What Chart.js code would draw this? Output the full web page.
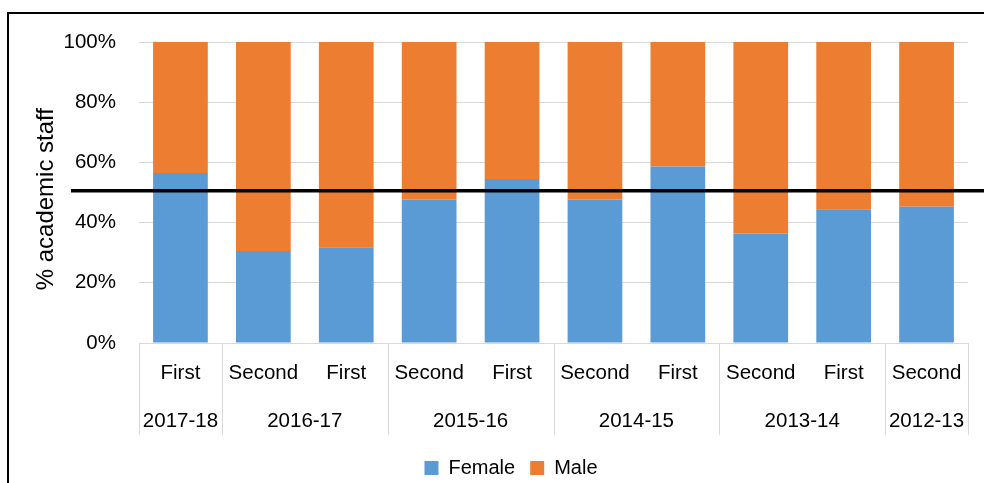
<!DOCTYPE html>
<html>
<head>
<meta charset="utf-8">
<script src="https://cdn.jsdelivr.net/npm/chart.js@4"></script>
<style>
  html, body { margin: 0; padding: 0; background: #fff; }
  #wrap { width: 984px; height: 483px; position: relative; }
</style>
</head>
<body>
<div id="wrap"><canvas id="c" width="984" height="483"></canvas></div>
<script>
// ---- data ----
const semesters = ['First', 'Second', 'First', 'Second', 'First', 'Second', 'First', 'Second', 'First', 'Second'];
const yearOfBar = ['2017-18', '2016-17', '2016-17', '2015-16', '2015-16', '2014-15', '2014-15', '2013-14', '2013-14', '2012-13'];
const female = [56.5, 30.6, 31.8, 47.7, 54.5, 47.7, 58.6, 36.4, 44.4, 45.3];
const male = [43.5, 69.4, 68.2, 52.3, 45.5, 52.3, 41.4, 63.6, 55.6, 54.7];
const yTicks = [0, 20, 40, 60, 80, 100];
const parityLine = 50.6;

const FONT = "'Liberation Sans', Arial, sans-serif";
const GRID = '#d9d9d9';

const decor = {
  id: 'decor',
  afterLayout(chart) {
    const lg = chart.legend;
    if (lg) { lg.left += 27; lg.right += 27; }
  },
  beforeDraw(chart) {
    const ctx = chart.ctx;
    ctx.save();
    ctx.strokeStyle = '#000';
    ctx.lineWidth = 2;
    ctx.beginPath();
    ctx.moveTo(8, 490);
    ctx.lineTo(8, 13);
    ctx.lineTo(990, 13);
    ctx.stroke();
    ctx.restore();
  },
  afterDatasetsDraw(chart) {
    const ctx = chart.ctx;
    const y = chart.scales.y.getPixelForValue(parityLine);
    ctx.save();
    ctx.strokeStyle = '#000';
    ctx.lineWidth = 3.5;
    ctx.beginPath();
    ctx.moveTo(71, y);
    ctx.lineTo(984, y);
    ctx.stroke();
    ctx.restore();
  },
  afterDraw(chart) {
    const ctx = chart.ctx;
    const xs = chart.scales.x;
    const n = semesters.length;
    const half = (xs.getPixelForValue(1) - xs.getPixelForValue(0)) / 2;
    const top = xs.top;
    const bottom = 435;
    // groups
    const groups = [];
    yearOfBar.forEach((yr, i) => {
      const g = groups[groups.length - 1];
      if (g && g.year === yr) g.end = i; else groups.push({ year: yr, start: i, end: i });
    });
    ctx.save();
    ctx.strokeStyle = GRID;
    ctx.lineWidth = 1;
    ctx.fillStyle = '#000';
    ctx.font = '20.5px ' + FONT;
    ctx.textAlign = 'center';
    ctx.textBaseline = 'middle';
    groups.forEach((g, k) => {
      const x0 = Math.round(xs.getPixelForValue(g.start) - half) + 0.5;
      ctx.beginPath();
      ctx.moveTo(x0, top);
      ctx.lineTo(x0, bottom);
      ctx.stroke();
      const cx = (xs.getPixelForValue(g.start) + xs.getPixelForValue(g.end)) / 2;
      ctx.fillText(g.year, cx, 421.5);
    });
    const xr = Math.round(xs.getPixelForValue(n - 1) + half) + 0.5;
    ctx.beginPath();
    ctx.moveTo(xr, top);
    ctx.lineTo(xr, bottom);
    ctx.stroke();
    ctx.restore();
  }
};

new Chart(document.getElementById('c'), {
  type: 'bar',
  data: {
    labels: semesters,
    datasets: [
      { label: 'Female', data: female, backgroundColor: '#5b9bd5', borderWidth: 0,
        categoryPercentage: 1, barPercentage: 0.66 },
      { label: 'Male', data: male, backgroundColor: '#ed7d31', borderWidth: 0,
        categoryPercentage: 1, barPercentage: 0.66 }
    ]
  },
  options: {
    responsive: false,
    animation: false,
    devicePixelRatio: 1,
    layout: { padding: { top: 42, right: 16, left: 0, bottom: -5 } },
    plugins: {
      legend: {
        position: 'bottom',
        labels: {
          boxWidth: 14, boxHeight: 14, padding: 15,
          color: '#000',
          font: { family: FONT, size: 20 }
        }
      },
      tooltip: { enabled: false }
    },
    scales: {
      x: {
        stacked: true,
        grid: { display: false, drawTicks: false },
        border: { display: true, color: GRID, width: 1 },
        ticks: { color: '#000', padding: 18, font: { family: FONT, size: 20.5 }, maxRotation: 0, autoSkip: false },
        afterFit(s) { s.height = 100; }
      },
      y: {
        stacked: true,
        min: 0, max: 100,
        afterBuildTicks(s) { s.ticks = yTicks.map(v => ({ value: v })); },
        grid: { color: GRID, drawTicks: false, lineWidth: 1 },
        border: { display: false },
        ticks: { color: '#000', padding: 23, font: { family: FONT, size: 20.5 },
                 callback: v => v + '%' },
        title: { display: true, text: '% academic staff  ', color: '#000',
                 font: { family: FONT, size: 24 }, padding: { top: 32, bottom: 0 } },
        afterFit(s) { s.width = 139; }
      }
    }
  },
  plugins: [decor]
});
</script>
</body>
</html>
